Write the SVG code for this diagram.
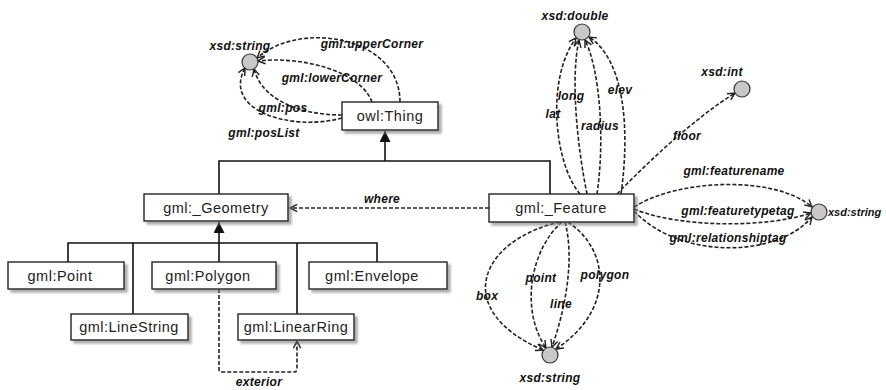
<svg xmlns="http://www.w3.org/2000/svg" width="886" height="390" viewBox="0 0 886 390">
<style>
.box{fill:#fff;stroke:#222;stroke-width:1.4;filter:url(#sh)}
.nt{font-family:"Liberation Sans",Arial,sans-serif;font-size:14.5px;letter-spacing:0.5px;fill:#222;text-anchor:middle}
.el{font-family:"Liberation Sans",Arial,sans-serif;font-size:12px;font-style:italic;font-weight:bold;letter-spacing:0.3px;fill:#111;text-anchor:middle}
.dash{fill:none;stroke:#222;stroke-width:1.6;stroke-dasharray:4,2;marker-end:url(#open)}
.inh{fill:none;stroke:#111;stroke-width:1.6}
.lit{fill:#c8c8c8;stroke:#333;stroke-width:1.2}
</style>
<defs>
<filter id="sh" x="-10%" y="-20%" width="130%" height="160%">
<feDropShadow dx="3" dy="3" stdDeviation="1.2" flood-color="#777" flood-opacity="0.6"/>
</filter>
<marker id="open" viewBox="0 0 10 10" refX="9" refY="5" markerWidth="9" markerHeight="9" markerUnits="userSpaceOnUse" orient="auto">
<path d="M1,1 L9,5 L1,9" fill="none" stroke="#222" stroke-width="1.6"/>
</marker>
<marker id="tri" viewBox="0 0 10 10" refX="10" refY="5" markerWidth="11" markerHeight="11" markerUnits="userSpaceOnUse" orient="auto">
<path d="M0,0 L10,5 L0,10 Z" fill="#111"/>
</marker>
</defs>

<g id="connectors">
<path class="inh" d="M219,194 V161 H550 V194"/>
<path class="inh" d="M385,161 V131" marker-end="url(#tri)"/>
<path class="inh" d="M68,262 V243 H377 V262 M133,243 V314 M297,243 V314 M219,262 V243"/>
<path class="inh" d="M219,243 V222" marker-end="url(#tri)"/>
<path class="dash" d="M400,102 C400,36 300,20 257,58"/>
<path class="dash" d="M372,102 C360,70 300,56 258,61"/>
<path class="dash" d="M342,115 C300,115 262,100 254,69"/>
<path class="dash" d="M342,118 C290,132 222,110 245,68"/>
<path class="dash" d="M489,208 H290"/>
<path class="dash" d="M219,289 V369 Q219,372 222,372 H294 Q297,372 297,369 V341"/>
<path class="dash" d="M580,194 C555,165 545,80 576,38"/>
<path class="dash" d="M587,194 C578,150 570,80 579,40"/>
<path class="dash" d="M597,194 C605,140 600,70 585,40"/>
<path class="dash" d="M621,194 C630,130 625,60 589,37"/>
<path class="dash" d="M617,194 C650,160 695,118 735,93"/>
<path class="dash" d="M634,207 C680,178 777,176 812,207"/>
<path class="dash" d="M634,209 C680,228 767,228 811,213"/>
<path class="dash" d="M634,211 C680,260 777,258 812,217"/>
<path class="dash" d="M560,222 C480,240 450,310 543,350"/>
<path class="dash" d="M562,222 C530,250 520,310 546,348"/>
<path class="dash" d="M565,222 C575,260 565,310 552,347"/>
<path class="dash" d="M568,222 C610,250 615,310 556,349"/>
</g>

<g id="owl-thing"><rect class="box" x="342" y="102" width="96" height="28"/><text class="nt" x="390" y="121">owl:Thing</text></g>
<g id="gml-geometry"><rect class="box" x="144" y="194" width="144" height="27"/><text class="nt" x="216" y="213">gml:_Geometry</text></g>
<g id="gml-feature"><rect class="box" x="489" y="194" width="145" height="28"/><text class="nt" x="561" y="213">gml:_Feature</text></g>
<g id="gml-point"><rect class="box" x="8" y="262" width="116" height="27"/><text class="nt" x="60" y="281">gml:Point</text></g>
<g id="gml-polygon"><rect class="box" x="152" y="262" width="124" height="27"/><text class="nt" x="208" y="281">gml:Polygon</text></g>
<g id="gml-envelope"><rect class="box" x="309" y="262" width="138" height="27"/><text class="nt" x="372" y="281">gml:Envelope</text></g>
<g id="gml-linestring"><rect class="box" x="71" y="314" width="117" height="26"/><text class="nt" x="129" y="332">gml:LineString</text></g>
<g id="gml-linearring"><rect class="box" x="238" y="314" width="116" height="26"/><text class="nt" x="296" y="332">gml:LinearRing</text></g>

<g id="xsd-string-top"><circle class="lit" cx="250" cy="62" r="8"/><text class="el" x="240" y="50">xsd:string</text></g>
<g id="xsd-double"><circle class="lit" cx="582" cy="32" r="8"/><text class="el" x="575" y="20">xsd:double</text></g>
<g id="xsd-int"><circle class="lit" cx="742" cy="89" r="8"/><text class="el" x="722" y="76">xsd:int</text></g>
<g id="xsd-string-right"><circle class="lit" cx="819" cy="212" r="8"/><text class="el" x="828" y="216" style="text-anchor:start;letter-spacing:0;font-size:11px">xsd:string</text></g>
<g id="xsd-string-bottom"><circle class="lit" cx="550" cy="355" r="8"/><text class="el" x="550" y="382">xsd:string</text></g>

<g id="labels">
<text class="el" x="372" y="48">gml:upperCorner</text>
<text class="el" x="332" y="82">gml:lowerCorner</text>
<text class="el" x="283" y="112">gml:pos</text>
<text class="el" x="264" y="137">gml:posList</text>
<text class="el" x="382" y="203">where</text>
<text class="el" x="259" y="386">exterior</text>
<text class="el" x="571" y="100">long</text>
<text class="el" x="553" y="118">lat</text>
<text class="el" x="600" y="130">radius</text>
<text class="el" x="620" y="94">elev</text>
<text class="el" x="687" y="140">floor</text>
<text class="el" x="734" y="175">gml:featurename</text>
<text class="el" x="738" y="215">gml:featuretypetag</text>
<text class="el" x="728" y="242">gml:relationshiptag</text>
<text class="el" x="487" y="300">box</text>
<text class="el" x="541" y="282">point</text>
<text class="el" x="561" y="308">line</text>
<text class="el" x="605" y="279">polygon</text>
</g>
</svg>
